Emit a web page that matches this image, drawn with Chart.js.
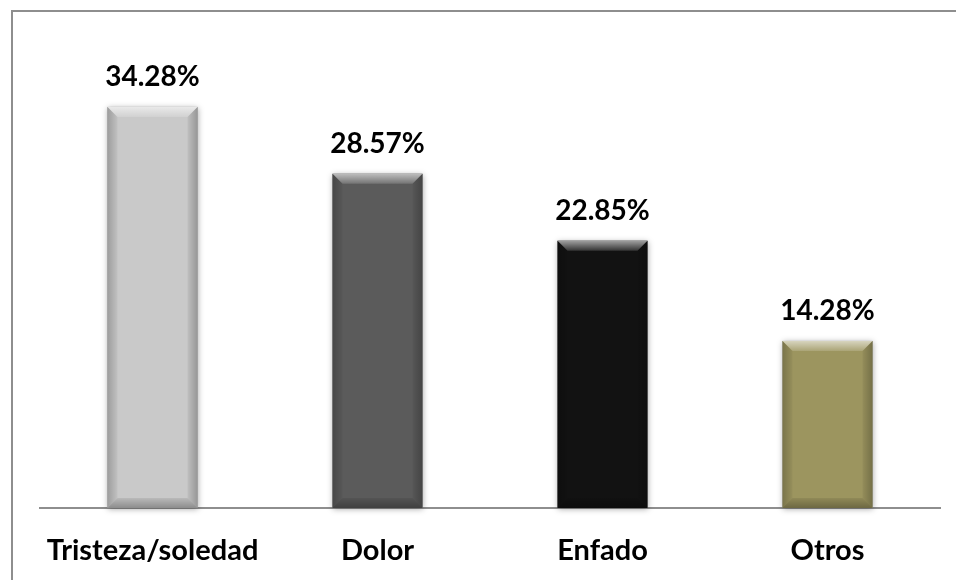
<!DOCTYPE html>
<html>
<head>
<meta charset="utf-8">
<script src="https://cdn.jsdelivr.net/npm/chart.js@4/dist/chart.umd.min.js"></script>
<style>
  html, body { margin: 0; padding: 0; background: #fff; }
  #wrap { width: 956px; height: 580px; position: relative; }
</style>
</head>
<body>
<div id="wrap"><canvas id="chart" width="956" height="580"></canvas></div>
<script>
const categories = ["Tristeza/soledad", "Dolor", "Enfado", "Otros"];
const values = [34.28, 28.57, 22.85, 14.28];
const valueLabels = ["34.28%", "28.57%", "22.85%", "14.28%"];
const barColors = ["#c9c9c9", "#5b5b5b", "#121212", "#9c955f"];

const fontFamily = "Lato, 'Open Sans', sans-serif";

// frame lines (top + left only, the rest is cut off in the picture)
const framePlugin = {
  id: "frame",
  beforeDraw(chart) {
    const ctx = chart.ctx;
    ctx.save();
    ctx.fillStyle = "#fff";
    ctx.fillRect(0, 0, chart.width, chart.height);
    ctx.strokeStyle = "#8e8e8e";
    ctx.lineWidth = 2;
    ctx.beginPath();
    ctx.moveTo(12, chart.height);
    ctx.lineTo(12, 11);
    ctx.lineTo(chart.width, 11);
    ctx.stroke();
    ctx.restore();
  }
};

// soft bevel on each bar + value label above it
const bevelPlugin = {
  id: "bevel",
  beforeDatasetsDraw(chart) {
    const ctx = chart.ctx;
    const meta = chart.getDatasetMeta(0);
    ctx.save();
    meta.data.forEach((bar) => {
      const w = bar.width;
      ctx.shadowColor = "rgba(0,0,0,0.35)";
      ctx.shadowBlur = 6;
      ctx.shadowOffsetY = 1;
      ctx.fillStyle = "#888";
      ctx.fillRect(bar.x - w / 2, bar.y, w, bar.base - bar.y);
    });
    ctx.restore();
  },
  afterDatasetsDraw(chart) {
    const ctx = chart.ctx;
    const meta = chart.getDatasetMeta(0);
    ctx.save();
    meta.data.forEach((bar, i) => {
      const w = bar.width;
      const l = bar.x - w / 2;
      const r = bar.x + w / 2;
      const t = bar.y;
      const b = bar.base;
      const d = 10;

      // top facet (light)
      let g = ctx.createLinearGradient(0, t, 0, t + d);
      g.addColorStop(0, "rgba(255,255,255,0.6)");
      g.addColorStop(1, "rgba(255,255,255,0.15)");
      ctx.fillStyle = g;
      ctx.beginPath();
      ctx.moveTo(l, t); ctx.lineTo(r, t); ctx.lineTo(r - d, t + d); ctx.lineTo(l + d, t + d);
      ctx.closePath(); ctx.fill();

      // left facet
      g = ctx.createLinearGradient(l, 0, l + d, 0);
      g.addColorStop(0, "rgba(0,0,0,0.22)");
      g.addColorStop(1, "rgba(0,0,0,0.04)");
      ctx.fillStyle = g;
      ctx.beginPath();
      ctx.moveTo(l, t); ctx.lineTo(l + d, t + d); ctx.lineTo(l + d, b - d); ctx.lineTo(l, b);
      ctx.closePath(); ctx.fill();

      // right facet
      g = ctx.createLinearGradient(r, 0, r - d, 0);
      g.addColorStop(0, "rgba(0,0,0,0.25)");
      g.addColorStop(1, "rgba(0,0,0,0.05)");
      ctx.fillStyle = g;
      ctx.beginPath();
      ctx.moveTo(r, t); ctx.lineTo(r - d, t + d); ctx.lineTo(r - d, b - d); ctx.lineTo(r, b);
      ctx.closePath(); ctx.fill();

      // bottom facet (dark)
      g = ctx.createLinearGradient(0, b, 0, b - d);
      g.addColorStop(0, "rgba(0,0,0,0.3)");
      g.addColorStop(1, "rgba(0,0,0,0.08)");
      ctx.fillStyle = g;
      ctx.beginPath();
      ctx.moveTo(l, b); ctx.lineTo(r, b); ctx.lineTo(r - d, b - d); ctx.lineTo(l + d, b - d);
      ctx.closePath(); ctx.fill();

      // value label
      ctx.fillStyle = "#000";
      ctx.font = "bold 28px " + fontFamily;
      ctx.textAlign = "center";
      ctx.textBaseline = "alphabetic";
      ctx.fillText(valueLabels[i], bar.x, t - 21);
    });
    ctx.restore();
  }
};

new Chart(document.getElementById("chart"), {
  type: "bar",
  plugins: [framePlugin, bevelPlugin],
  data: {
    labels: categories,
    datasets: [{
      data: values,
      backgroundColor: barColors,
      borderWidth: 0,
      categoryPercentage: 1,
      barPercentage: 0.4
    }]
  },
  options: {
    responsive: false,
    animation: false,
    layout: { padding: { left: 40, right: 16, top: 40, bottom: 0 } },
    plugins: {
      legend: { display: false },
      tooltip: { enabled: false }
    },
    scales: {
      x: {
        afterFit(scale) { scale.height = 72; },
        grid: { display: false, drawTicks: false },
        border: { display: true, color: "#8e8e8e", width: 2 },
        ticks: {
          color: "#000",
          padding: 25,
          font: { family: fontFamily, size: 29, weight: "bold" }
        }
      },
      y: {
        display: false,
        min: 0,
        max: 40
      }
    }
  }
});
</script>
</body>
</html>
